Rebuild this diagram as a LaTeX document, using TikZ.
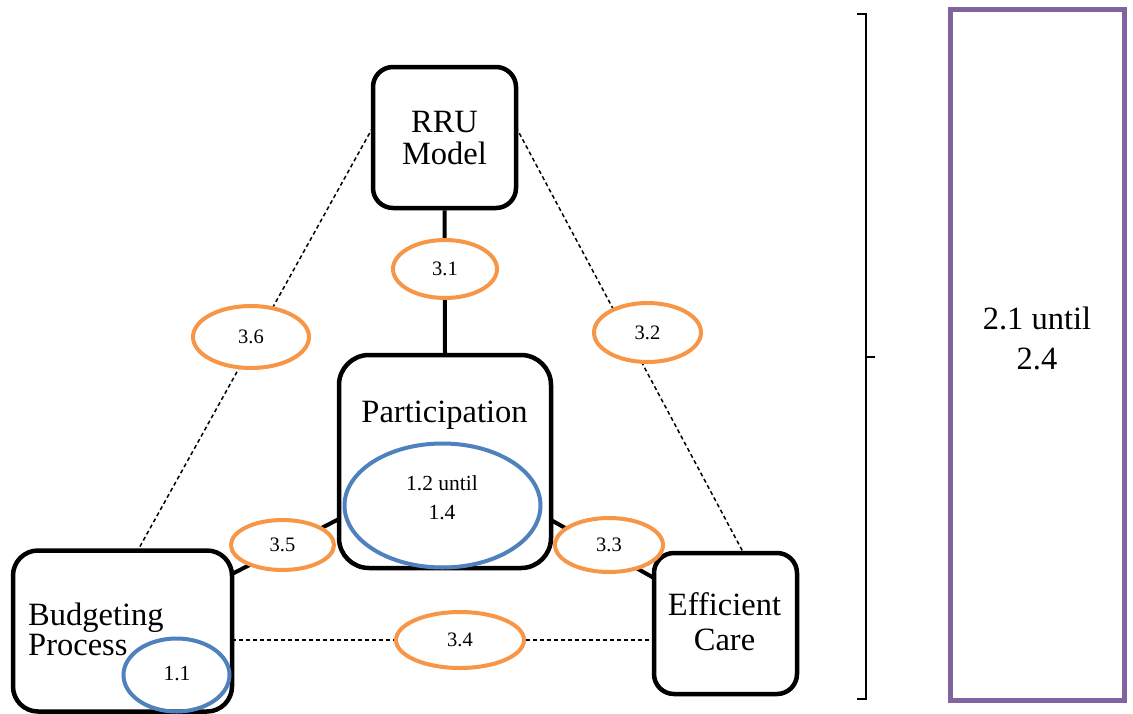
\documentclass[tikz,border=0pt]{standalone}
\usepackage{fontspec}
\setmainfont{Liberation Serif}
\usetikzlibrary{shapes.geometric}
\definecolor{orng}{HTML}{F79646}
\definecolor{blu}{HTML}{4F81BD}
\definecolor{purp}{HTML}{8064A2}
\tikzset{
  box/.style={draw=black, line width=4.5pt, fill=white, rectangle, inner sep=0pt},
  bigtxt/.style={inner sep=0pt, font=\fontsize{32.5}{35}\selectfont},
  oval/.style={draw=orng, line width=4pt, fill=white, ellipse, inner sep=0pt, font=\fontsize{20.5}{23}\selectfont},
  bluoval/.style={draw=blu, line width=4pt, ellipse, inner sep=0pt},
  smalltxt/.style={inner sep=0pt, font=\fontsize{21.5}{24}\selectfont},
  solidlink/.style={line width=4pt, black},
  dashlink/.style={line width=1.5pt, black, dash pattern=on 4pt off 3pt},
}
\begin{document}
\begin{tikzpicture}[x=1pt,y=-1pt]
\useasboundingbox (0,0) rectangle (1133,713);
% boxes
\node[box, rounded corners=20pt, minimum width=143pt, minimum height=141pt] (rru) at (444.5,137.5) {};
\node[box, rounded corners=30pt, minimum width=212pt, minimum height=213pt] (par) at (445,461.5) {};
\node[box, rounded corners=25pt, minimum width=219pt, minimum height=161pt] (bud) at (122.5,631) {};
\node[box, rounded corners=20pt, minimum width=143pt, minimum height=141pt] (eff) at (725.5,623.5) {};
% connection points
\coordinate (rruL) at (373,127);
\coordinate (rruR) at (516,127);
\coordinate (budT) at (138,550);
\coordinate (effT) at (743,552);
\coordinate (budR) at (232,640);
\coordinate (effL) at (654,640);
\coordinate (budRt) at (232,574);
\coordinate (parL) at (339,519);
\coordinate (parR) at (551,520);
\coordinate (effLt) at (654,578);
% connectors
\draw[solidlink] (rru.south) -- (par.north);
\draw[solidlink] (budRt) -- (parL);
\draw[solidlink] (parR) -- (effLt);
\draw[dashlink] (rruL) -- (budT);
\draw[dashlink] (rruR) -- (effT);
\draw[dashlink] (budR) -- (effL);
% orange ovals
\node[oval, minimum width=104pt, minimum height=58pt] (o31) at (445,269) {3.1};
\node[oval, minimum width=116pt, minimum height=62pt] (o36) at (251,337) {3.6};
\node[oval, minimum width=107pt, minimum height=59pt] (o32) at (647.5,332.5) {3.2};
\node[oval, minimum width=103pt, minimum height=50pt] (o35) at (282.5,545) {3.5};
\node[oval, minimum width=108pt, minimum height=54pt] (o33) at (609,545) {3.3};
\node[oval, minimum width=128pt, minimum height=56pt] (o34) at (460,640) {3.4};
% blue ovals
\node[bluoval, minimum width=196pt, minimum height=124pt] (b14) at (442.5,505.5) {};
\node[bluoval, minimum width=106pt, minimum height=73pt] (b11) at (176.5,675) {};
% texts
\node[bigtxt, anchor=base] (rru1) at (444.5,132) {RRU};
\node[bigtxt, anchor=base] (rru2) at (444.5,164) {Model};
\node[bigtxt, anchor=base] (part) at (444.5,422) {Participation};
\node[smalltxt, anchor=base] (b14a) at (442,490) {1.2 until};
\node[smalltxt, anchor=base] (b14b) at (442,519) {1.4};
\node[bigtxt, anchor=base west] (bud1) at (28,625) {Budgeting};
\node[bigtxt, anchor=base west] (bud2) at (28,655) {Process};
\node[smalltxt, anchor=base] (b11t) at (177,680) {1.1};
\node[bigtxt, anchor=base] (eff1) at (724.5,615) {Efficient};
\node[bigtxt, anchor=base] (eff2) at (724.5,650) {Care};
% brace
\coordinate (brT) at (857,14);
\coordinate (brB) at (857,699);
\coordinate (brM) at (875,357);
\draw[line width=2pt, black] (brT) -- (866,14) -- (866,699) -- (brB);
\draw[line width=2pt, black] (866,357) -- (brM);
% purple box
\node[draw=purp, line width=5pt, rectangle, minimum width=174pt, minimum height=691pt, inner sep=0pt] (pbox) at (1037.5,355) {};
\node[bigtxt, anchor=base] (p1) at (1037,329) {2.1 until};
\node[bigtxt, anchor=base] (p2) at (1037,369) {2.4};
\end{tikzpicture}
\end{document}
